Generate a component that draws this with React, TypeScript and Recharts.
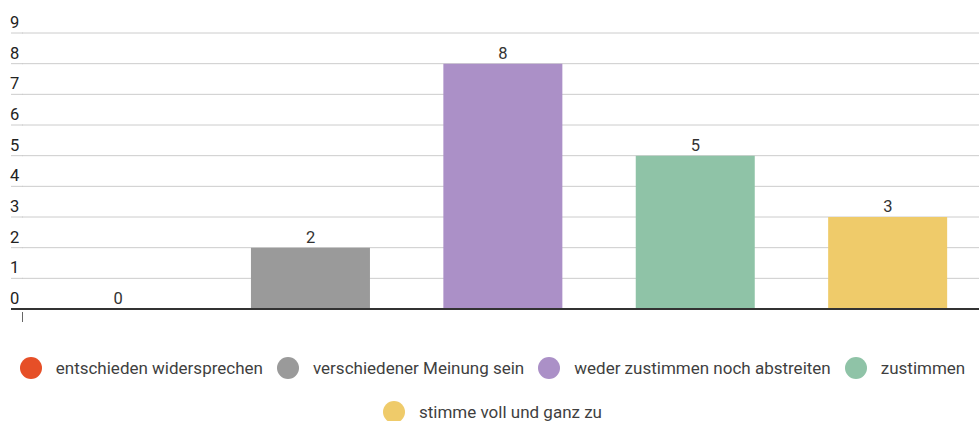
import React from "react";
import {
  ComposedChart,
  Bar,
  Line,
  XAxis,
  YAxis,
  CartesianGrid,
  Cell,
  LabelList,
  ReferenceLine,
} from "recharts";

const categories = [
  "entschieden widersprechen",
  "verschiedener Meinung sein",
  "weder zustimmen noch abstreiten",
  "zustimmen",
  "stimme voll und ganz zu",
];
const counts = [0, 2, 8, 5, 3];
const colors = ["#e64f27", "#9a9a9a", "#ab90c7", "#8fc3a7", "#efcb6a"];
const yTicks = [0, 1, 2, 3, 4, 5, 6, 7, 8, 9];

const data = categories.map((name, i) => ({ name, value: counts[i] }));

const FONT = "Roboto, 'Noto Sans', sans-serif";

const YTick = (props: any) => {
  const { y, payload } = props;
  const v = payload.value;
  return (
    <g>
      <text x={10} y={y - 5} fontSize={16.5} fill="#222" fontFamily={FONT} textAnchor="start">
        {v}
      </text>
      {v === 0 ? (
        <g>
          <line x1={11} x2={23} y1={y} y2={y} stroke="#333" strokeWidth={2} />
          <line x1={22.5} x2={22.5} y1={y + 3} y2={y + 13} stroke="#666" strokeWidth={1} />
        </g>
      ) : (
        <line x1={11} x2={23} y1={y} y2={y} stroke="#cccccc" strokeWidth={1} />
      )}
    </g>
  );
};

export default function App() {
  return (
    <div
      style={{
        position: "absolute",
        left: 0,
        top: 0,
        width: 979,
        height: 421,
        overflow: "hidden",
        background: "#fff",
        fontFamily: FONT,
      }}
    >
      <ComposedChart
        width={984}
        height={421}
        data={data}
        margin={{ top: 33, right: 0, bottom: 112, left: 0 }}
        barCategoryGap="19%"
      >
        <CartesianGrid vertical={false} stroke="#cccccc" strokeWidth={1} />
        <XAxis dataKey="name" height={0} tick={false} tickLine={false} axisLine={false} />
        <YAxis
          width={22}
          domain={[0, 9]}
          ticks={yTicks}
          interval={0}
          axisLine={false}
          tickLine={false}
          tick={<YTick />}
        />
        <Bar dataKey="value" isAnimationActive={false}>
          {data.map((d, i) => (
            <Cell key={d.name} fill={colors[i]} />
          ))}
        </Bar>
        <ReferenceLine y={0} stroke="#333" strokeWidth={2} ifOverflow="extendDomain" />
        <Line
          dataKey="value"
          stroke="none"
          dot={false}
          activeDot={false}
          isAnimationActive={false}
          legendType="none"
        >
          <LabelList
            dataKey="value"
            position="top"
            offset={5}
            fontSize={16.5}
            fill="#333"
            fontFamily={FONT}
          />
        </Line>
      </ComposedChart>
      <div
        style={{
          position: "absolute",
          left: 3,
          top: 357,
          width: 979,
          display: "flex",
          flexWrap: "wrap",
          justifyContent: "center",
          rowGap: 22,
          columnGap: 14,
        }}
      >
        {categories.map((c, i) => (
          <div key={c} style={{ display: "flex", alignItems: "center", height: 22 }}>
            <span
              style={{
                width: 22,
                height: 22,
                borderRadius: "50%",
                background: colors[i],
                display: "inline-block",
                marginRight: 14,
              }}
            />
            <span style={{ fontSize: 17, color: "#3f3f3f", whiteSpace: "nowrap" }}>{c}</span>
          </div>
        ))}
      </div>
    </div>
  );
}
